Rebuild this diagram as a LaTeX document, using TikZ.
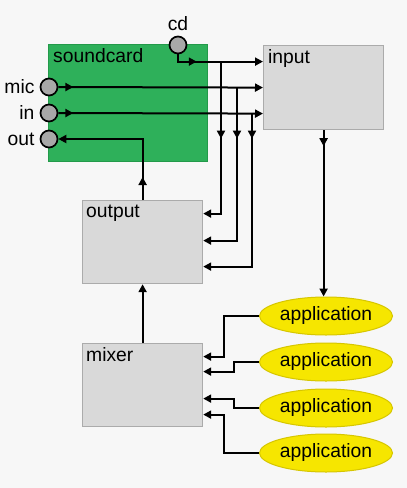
\documentclass[tikz,border=0pt]{standalone}
\usepackage{fontspec}
\setmainfont{Liberation Sans}
\usetikzlibrary{arrows.meta,decorations.markings,shapes.geometric,calc}
\definecolor{bgc}{HTML}{F7F7F7}
\definecolor{cardgreen}{HTML}{2EB05A}
\definecolor{cardedge}{HTML}{239A4A}
\definecolor{boxfill}{HTML}{D9D9D9}
\definecolor{boxedge}{HTML}{ABABAB}
\definecolor{appfill}{HTML}{F6E600}
\definecolor{appedge}{HTML}{D6C600}
\definecolor{portfill}{HTML}{A8A8A8}
\begin{document}
\begin{tikzpicture}[x=1pt,y=1pt,
  font=\fontsize{19.3}{22}\selectfont,
  conn/.style={line width=2pt,-{Triangle[length=8pt,width=8pt]}},
  midarrow/.style={postaction={decorate},decoration={markings,
     mark=at position #1 with {\arrow{Triangle[length=8pt,width=8pt]}}}},
  graybox/.style={rectangle,draw=boxedge,fill=boxfill,line width=1.2pt,
     minimum width=120pt,minimum height=84pt,anchor=north west,inner sep=0pt},
  boxlabel/.style={anchor=base west,inner sep=0pt},
  port/.style={circle,draw=black,fill=portfill,line width=1.7pt,
     minimum size=17pt,inner sep=0pt},
  portlabel/.style={anchor=east,inner sep=0pt},
  app/.style={ellipse,draw=appedge,fill=appfill,line width=1pt,
     minimum width=133pt,minimum height=38pt,inner sep=0pt}]
\useasboundingbox (0,0) rectangle (407,-488);
\fill[bgc] (0,0) rectangle (407,-488);

% soundcard
\node[rectangle,draw=cardedge,fill=cardgreen,line width=0.8pt,
  minimum width=159pt,minimum height=117pt,anchor=north west,inner sep=0pt]
  (sc) at (48,-44) {};
\node[boxlabel] (sclab) at ([shift={(5pt,-18pt)}]sc.north west) {soundcard};

% boxes
\node[graybox] (input) at (263,-45) {};
\node[boxlabel] (inlab) at ([shift={(5pt,-18pt)}]input.north west) {input};
\node[graybox,minimum height=83pt] (output) at (82,-200) {};
\node[boxlabel] (outlab) at ([shift={(4pt,-17pt)}]output.north west) {output};
\node[graybox,minimum height=83pt] (mixer) at (82,-343) {};
\node[boxlabel] (mixlab) at ([shift={(4pt,-18pt)}]mixer.north west) {mixer};

% ports
\node[port] (cd) at (178,-45) {};
\node[anchor=base,inner sep=0pt] (cdlab) at (178,-30) {cd};
\node[port] (mic) at (49,-87) {};
\node[port] (in) at (49,-113) {};
\node[port] (out) at (49,-139) {};
\node[portlabel] (miclab) at ([xshift=-5pt]mic.west) {mic};
\node[portlabel] (inplab) at ([xshift=-5pt]in.west) {in};
\node[portlabel] (outplab) at ([xshift=-5pt]out.west) {out};

% applications
\node[app] (app1) at (326,-316) {application};
\node[app] (app2) at (326,-362) {application};
\node[app] (app3) at (326,-408) {application};
\node[app] (app4) at (326,-453) {application};

% target points
\coordinate (i1) at ([yshift=26pt]input.west);
\coordinate (i2) at (input.west);
\coordinate (i3) at ([yshift=-26pt]input.west);
\coordinate (o1) at ([yshift=28.5pt]output.east);
\coordinate (o2) at ([yshift=1.5pt]output.east);
\coordinate (o3) at ([yshift=-24.5pt]output.east);
\coordinate (m1) at ([yshift=28.5pt]mixer.east);
\coordinate (m2) at ([yshift=13.5pt]mixer.east);
\coordinate (m3) at ([yshift=-13.5pt]mixer.east);
\coordinate (m4) at ([yshift=-29.5pt]mixer.east);
\coordinate (j1) at ([xshift=-42pt]i1);
\coordinate (j2) at ([xshift=-26pt]i2);
\coordinate (j3) at ([xshift=-11pt]i3);

% soundcard to input
\draw[conn,midarrow=26pt] (cd.south) |- (i1);
\draw[conn,midarrow=15pt] (mic.east) -- (i2);
\draw[conn,midarrow=15pt] (in.east) -- (i3);

% branches to output
\draw[conn,midarrow=77pt] (j1) |- (o1);
\draw[conn,midarrow=51pt] (j2) |- (o2);
\draw[conn,midarrow=25pt] (j3) |- (o3);

% output to out port
\draw[conn,midarrow=23pt] (output.north) |- (out.east);

% mixer to output
\draw[conn] (mixer.north) -- (output.south);

% input to application
\draw[conn,midarrow=16pt] (input.south) -- (input.south |- app1.north);

% applications to mixer
\draw[conn] (app1.west) -| ([xshift=21pt]m1) -- (m1);
\draw[conn] (app2.west) -| ([xshift=31pt]m2) -- (m2);
\draw[conn] (app3.west) -| ([xshift=31pt]m3) -- (m3);
\draw[conn] (app4.west) -| ([xshift=21pt]m4) -- (m4);
\end{tikzpicture}
\end{document}
